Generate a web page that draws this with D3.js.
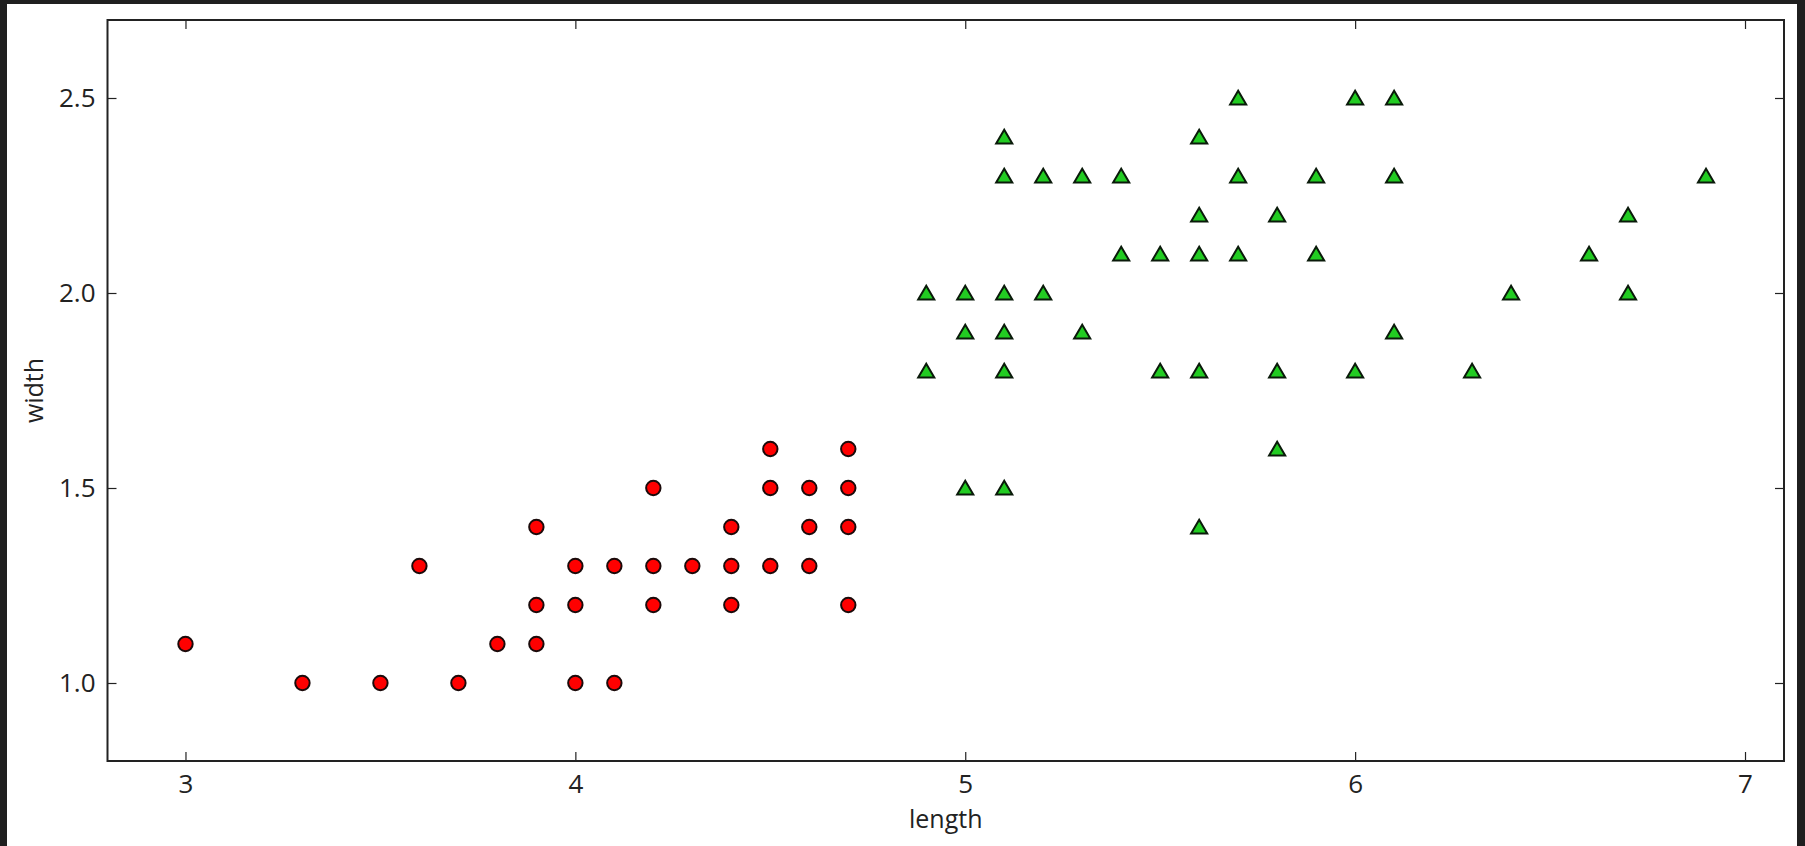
<!DOCTYPE html>
<html>
<head>
<meta charset="utf-8">
<script src="https://cdn.jsdelivr.net/npm/d3@7"></script>
<style>
  html, body { margin: 0; padding: 0; background: #1f1f1f; }
  svg { display: block; }
  text { font-family: "Open Sans", sans-serif; fill: #222; }
</style>
</head>
<body>
<svg id="chart" width="1805" height="846"></svg>
<script>
// versicolor (red circles)
const redLength = [3.0, 3.3, 3.5, 3.6, 3.7, 3.8, 3.9, 3.9, 3.9, 4.0, 4.0, 4.0, 4.1, 4.1, 4.2, 4.2, 4.2, 4.3, 4.4, 4.4, 4.4, 4.5, 4.5, 4.5, 4.6, 4.6, 4.6, 4.7, 4.7, 4.7, 4.7]
const redWidth  = [1.1, 1.0, 1.0, 1.3, 1.0, 1.1, 1.4, 1.2, 1.1, 1.3, 1.2, 1.0, 1.3, 1.0, 1.5, 1.3, 1.2, 1.3, 1.4, 1.3, 1.2, 1.6, 1.5, 1.3, 1.5, 1.4, 1.3, 1.6, 1.5, 1.4, 1.2]

// virginica (green triangles)
const greenLength = [4.9, 4.9, 5.0, 5.0, 5.0, 5.1, 5.1, 5.1, 5.1, 5.1, 5.1, 5.2, 5.2, 5.3, 5.3, 5.4, 5.4, 5.5, 5.5, 5.6, 5.6, 5.6, 5.6, 5.6, 5.7, 5.7, 5.7, 5.8, 5.8, 5.8, 5.9, 5.9, 6.0, 6.0, 6.1, 6.1, 6.1, 6.3, 6.4, 6.6, 6.7, 6.7, 6.9]
const greenWidth  = [2.0, 1.8, 2.0, 1.9, 1.5, 2.4, 2.3, 2.0, 1.9, 1.8, 1.5, 2.3, 2.0, 2.3, 1.9, 2.3, 2.1, 2.1, 1.8, 2.4, 2.2, 2.1, 1.8, 1.4, 2.5, 2.3, 2.1, 2.2, 1.8, 1.6, 2.3, 2.1, 2.5, 1.8, 2.5, 2.3, 1.9, 1.8, 2.0, 2.1, 2.2, 2.0, 2.3]

const xTicks = [3, 4, 5, 6, 7]
const yTicks = [1.0, 1.5, 2.0, 2.5]

const svg = d3.select('#chart')

svg.append('rect')
    .attr('x', 7).attr('y', 4)
    .attr('width', 1790).attr('height', 842)
    .attr('fill', '#fff')

const plot = { left: 107.5, top: 20, right: 1784, bottom: 761 }

const x = d3.scaleLinear().domain([2.8, 7.1]).range([plot.left, plot.right])
const y = d3.scaleLinear().domain([0.8, 2.7]).range([plot.bottom, plot.top])

const tickLen = 9

const styleAxis = g => {
    g.select('.domain').remove()
    g.selectAll('.tick line').attr('stroke', '#222').attr('stroke-width', 1.2)
    g.selectAll('.tick text').attr('font-size', 26).attr('fill', '#222')
}

svg.append('g')
    .attr('transform', `translate(0, ${plot.bottom})`)
    .call(d3.axisBottom(x).tickValues(xTicks).tickFormat(d3.format('d')).tickSizeInner(-tickLen).tickPadding(14))
    .call(styleAxis)

svg.append('g')
    .attr('transform', `translate(0, ${plot.top})`)
    .call(d3.axisTop(x).tickValues(xTicks).tickFormat('').tickSizeInner(-tickLen))
    .call(styleAxis)

svg.append('g')
    .attr('transform', `translate(${plot.left}, 0)`)
    .call(d3.axisLeft(y).tickValues(yTicks).tickFormat(d3.format('.1f')).tickSizeInner(-tickLen).tickPadding(12))
    .call(styleAxis)

svg.append('g')
    .attr('transform', `translate(${plot.right}, 0)`)
    .call(d3.axisRight(y).tickValues(yTicks).tickFormat('').tickSizeInner(-tickLen))
    .call(styleAxis)

svg.append('rect')
    .attr('x', plot.left).attr('y', plot.top)
    .attr('width', plot.right - plot.left).attr('height', plot.bottom - plot.top)
    .attr('fill', 'none').attr('stroke', '#222').attr('stroke-width', 2)

// red circles
svg.append('g').selectAll('circle')
    .data(redLength.map((v, i) => [v, redWidth[i]]))
    .join('circle')
    .attr('cx', d => x(d[0]))
    .attr('cy', d => y(d[1]))
    .attr('r', 7.2)
    .attr('fill', '#f00')
    .attr('stroke', '#1a0a0a')
    .attr('stroke-width', 2)

// matplotlib-like '^' centred on its bounding box
const triangle = {
    draw(ctx, size) {
        const h = Math.sqrt(size) / 2
        ctx.moveTo(0, -h)
        ctx.lineTo(h * 1.1, h * 0.9)
        ctx.lineTo(-h * 1.1, h * 0.9)
        ctx.closePath()
    }
}

svg.append('g').selectAll('path')
    .data(greenLength.map((v, i) => [v, greenWidth[i]]))
    .join('path')
    .attr('transform', d => `translate(${x(d[0])}, ${y(d[1])})`)
    .attr('d', d3.symbol(triangle, 215))
    .attr('fill', '#22cc22')
    .attr('stroke', '#0a1a0a')
    .attr('stroke-width', 2)
    .attr('stroke-linejoin', 'miter')

svg.append('text')
    .attr('x', (plot.left + plot.right) / 2)
    .attr('y', 828)
    .attr('text-anchor', 'middle')
    .attr('font-size', 25)
    .text('length')

svg.append('text')
    .attr('transform', `translate(43, ${(plot.top + plot.bottom) / 2}) rotate(-90)`)
    .attr('text-anchor', 'middle')
    .attr('font-size', 25)
    .text('width')
</script>
</body>
</html>
